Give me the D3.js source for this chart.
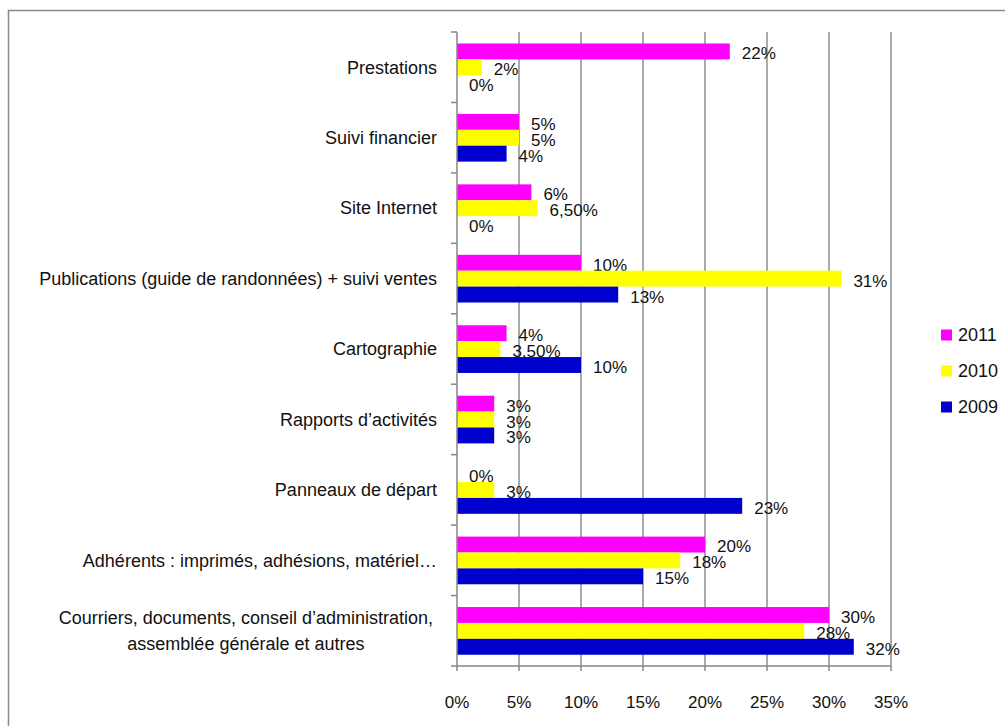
<!DOCTYPE html>
<html>
<head>
<meta charset="utf-8">
<script src="https://cdn.jsdelivr.net/npm/d3@7"></script>
<style>
  body { margin: 0; background: #fff; }
  svg { display: block; font-family: 'Liberation Sans', Arial, sans-serif; }
</style>
</head>
<body>
<svg width="1005" height="726"></svg>
<script>
// categories top to bottom, one value per year
const categories = [
  'Prestations',
  'Suivi financier',
  'Site Internet',
  'Publications (guide de randonnées) + suivi ventes',
  'Cartographie',
  'Rapports d\u2019activités',
  'Panneaux de départ',
  'Adhérents : imprimés, adhésions, matériel\u2026',
  'Courriers, documents, conseil d\u2019administration,|assemblée générale et autres'
];
const years = ['2011', '2010', '2009'];
const values2011 = [22, 5, 6, 10, 4, 3, 0, 20, 30];
const values2010 = [2, 5, 6.5, 31, 3.5, 3, 3, 18, 28];
const values2009 = [0, 4, 0, 13, 10, 3, 23, 15, 32];
const xTicks = [0, 5, 10, 15, 20, 25, 30, 35];
const colors = ['#ff00ff', '#ffff00', '#0000cc'];

const series = [values2011, values2010, values2009];

const svg = d3.select('svg');
const margin = { top: 32, left: 457, right: 114, bottom: 60 };
const innerWidth = 1005 - margin.left - margin.right;
const innerHeight = 726 - margin.top - margin.bottom;

const fmt = v => Number.isInteger(v) ? v + '%' : v.toFixed(2).replace('.', ',') + '%';

// outer frame
svg.append('path')
  .attr('d', 'M8.5,740 V10.5 H1020')
  .attr('fill', 'none')
  .attr('stroke', '#8a8a8a')
  .attr('stroke-width', 1.5);

const xScale = d3.scaleLinear().domain([0, 35]).range([0, innerWidth]);
const yScale = d3.scaleBand().domain(categories).range([0, innerHeight]);
const ySub = d3.scaleBand().domain(years)
  .range([yScale.bandwidth() * 0.163, yScale.bandwidth() * 0.84]);

const g = svg.append('g')
  .attr('transform', `translate(${margin.left}, ${margin.top})`);

// gridlines
g.append('g').selectAll('line').data(xTicks.slice(1))
  .enter().append('line')
    .attr('x1', d => xScale(d)).attr('x2', d => xScale(d))
    .attr('y1', 0).attr('y2', innerHeight)
    .attr('stroke', '#8e8e8e')
    .attr('stroke-width', 1.5);

// bars
years.forEach((yr, si) => {
  g.append('g').selectAll('rect').data(series[si])
    .enter().append('rect')
      .attr('x', 0)
      .attr('y', (d, i) => yScale(categories[i]) + ySub(yr))
      .attr('width', d => xScale(d))
      .attr('height', ySub.bandwidth())
      .attr('fill', colors[si]);

  g.append('g').selectAll('text').data(series[si])
    .enter().append('text')
      .attr('x', d => xScale(d) + 12)
      .attr('y', (d, i) => yScale(categories[i]) + ySub(yr) + ySub.bandwidth() / 2 + 2)
      .attr('dy', '0.35em')
      .attr('font-size', 17)
      .attr('fill', '#111')
      .text(d => fmt(d));
});

// y axis
const yAxis = g.append('g');
yAxis.append('line')
  .attr('x1', 0).attr('x2', 0).attr('y1', 0).attr('y2', innerHeight)
  .attr('stroke', '#868686').attr('stroke-width', 1.5);
yAxis.selectAll('.tick').data(d3.range(categories.length + 1))
  .enter().append('line')
    .attr('x1', -6).attr('x2', 0)
    .attr('y1', i => i * yScale.step()).attr('y2', i => i * yScale.step())
    .attr('stroke', '#868686').attr('stroke-width', 1.5);

yAxis.selectAll('text.cat').data(categories)
  .enter().append('text')
    .attr('class', 'cat')
    .attr('font-size', 18)
    .attr('fill', '#111')
    .each(function (d) {
      const lines = d.split('|');
      const t = d3.select(this);
      const cy = yScale(d) + yScale.bandwidth() / 2;
      if (lines.length === 1) {
        t.attr('x', -20).attr('y', cy).attr('dy', '0.35em')
          .attr('text-anchor', 'end').text(d);
      } else {
        t.attr('text-anchor', 'middle');
        const spans = lines.map((l, k) =>
          t.append('tspan').attr('x', 0).attr('y', cy + (k - 0.5) * 26).attr('dy', '0.35em').text(l));
        // center the block with its right edge at -24
        const w = d3.max(spans, s => s.node().getComputedTextLength());
        spans.forEach(s => s.attr('x', -24 - w / 2));
      }
    });

// x axis
const xAxis = g.append('g').attr('transform', `translate(0, ${innerHeight})`);
xAxis.append('line')
  .attr('x1', 0).attr('x2', innerWidth)
  .attr('stroke', '#868686').attr('stroke-width', 1.5);
xAxis.selectAll('line.tick').data(xTicks)
  .enter().append('line')
    .attr('class', 'tick')
    .attr('x1', d => xScale(d)).attr('x2', d => xScale(d))
    .attr('y1', 0).attr('y2', 5)
    .attr('stroke', '#868686').attr('stroke-width', 1.5);
xAxis.selectAll('text').data(xTicks)
  .enter().append('text')
    .attr('x', d => xScale(d))
    .attr('y', 36)
    .attr('dy', '0.35em')
    .attr('text-anchor', 'middle')
    .attr('font-size', 17)
    .attr('fill', '#111')
    .text(d => d + '%');

// legend
const legend = svg.append('g').attr('transform', 'translate(941, 335)');
years.forEach((yr, i) => {
  legend.append('rect')
    .attr('x', 0).attr('y', i * 36 - 5.5)
    .attr('width', 11).attr('height', 11)
    .attr('fill', colors[i]);
  legend.append('text')
    .attr('x', 17).attr('y', i * 36)
    .attr('dy', '0.35em')
    .attr('font-size', 18)
    .attr('fill', '#111')
    .text(yr);
});
</script>
</body>
</html>
